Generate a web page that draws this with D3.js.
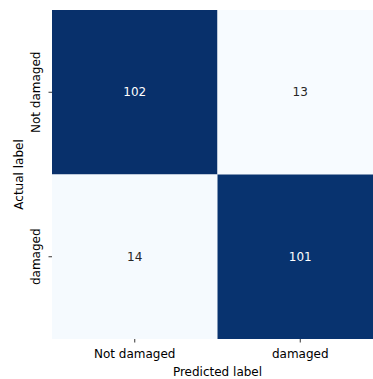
<!DOCTYPE html>
<html>
<head>
<meta charset="utf-8">
<script src="https://cdn.jsdelivr.net/npm/d3@7"></script>
<style>
  html, body { margin: 0; padding: 0; background: #fff; }
  svg { display: block; font-family: "DejaVu Sans", sans-serif; }
</style>
</head>
<body>
<svg id="chart" width="373" height="379"></svg>
<script>
// Confusion matrix: rows = actual, columns = predicted
const predictedLabels = ["Not damaged", "damaged"];
const actualLabels = ["Not damaged", "damaged"];
const counts = [
  [102, 13],
  [14, 101]
];

const svg = d3.select("#chart");
const plotLeft = 52, plotTop = 10, plotRight = 383, plotBottom = 339;

const x = d3.scaleBand().domain(predictedLabels).range([plotLeft, plotRight]).padding(0);
const y = d3.scaleBand().domain(actualLabels).range([plotTop, plotBottom]).padding(0);

const flat = counts.flat();
const color = d3.scaleSequential(d3.interpolateBlues)
  .domain([d3.min(flat), d3.max(flat)]);

const cells = [];
actualLabels.forEach((a, i) => {
  predictedLabels.forEach((p, j) => {
    cells.push({ actual: a, predicted: p, value: counts[i][j] });
  });
});

svg.append("g").selectAll("rect")
  .data(cells)
  .join("rect")
  .attr("x", d => x(d.predicted))
  .attr("y", d => y(d.actual))
  .attr("width", x.bandwidth())
  .attr("height", y.bandwidth())
  .attr("fill", d => color(d.value));

const mid = (d3.min(flat) + d3.max(flat)) / 2;
svg.append("g").selectAll("text")
  .data(cells)
  .join("text")
  .attr("x", d => x(d.predicted) + x.bandwidth() / 2)
  .attr("y", d => y(d.actual) + y.bandwidth() / 2)
  .attr("text-anchor", "middle")
  .attr("dominant-baseline", "central")
  .attr("font-size", 12)
  .attr("fill", d => d.value > mid ? "#ffffff" : "#262626")
  .text(d => d.value);

// Axes
const xAxis = svg.append("g")
  .attr("transform", `translate(0,${plotBottom})`)
  .call(d3.axisBottom(x).tickSize(3.5).tickPadding(7));
const yAxis = svg.append("g")
  .attr("transform", `translate(${plotLeft},0)`)
  .call(d3.axisLeft(y).tickSize(3.5).tickPadding(3.5));

[xAxis, yAxis].forEach(g => {
  g.select(".domain").remove();
  g.selectAll(".tick line").attr("stroke", "#000").attr("stroke-width", 0.8);
  g.selectAll(".tick text")
    .attr("font-size", 12)
    .attr("font-family", "DejaVu Sans, sans-serif")
    .attr("fill", "#000");
});

yAxis.selectAll(".tick text")
  .attr("transform", "rotate(-90)")
  .attr("x", 0)
  .attr("y", -12.5)
  .attr("dy", 0)
  .attr("text-anchor", "middle")
  .attr("dominant-baseline", "auto");

// Axis titles
svg.append("text")
  .attr("x", (plotLeft + plotRight) / 2)
  .attr("y", 375.5)
  .attr("text-anchor", "middle")
  .attr("font-size", 12)
  .attr("fill", "#000")
  .text("Predicted label");

svg.append("text")
  .attr("transform", `translate(22.5,${(plotTop + plotBottom) / 2}) rotate(-90)`)
  .attr("text-anchor", "middle")
  .attr("font-size", 12)
  .attr("fill", "#000")
  .text("Actual label");
</script>
</body>
</html>
